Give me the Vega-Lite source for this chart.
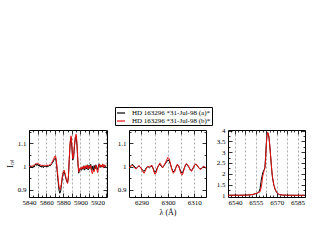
{
"$schema": "https://vega.github.io/schema/vega-lite/v6.json",
"padding": {"left": 5, "top": 106, "right": 5, "bottom": 5},
"config": {
  "view": {"stroke": "black", "strokeWidth": 1},
  "font": "Liberation Serif",
  "axis": {"domain": false, "labelFont": "Liberation Serif", "labelFontSize": 7, "labelColor": "black", "tickColor": "black", "tickWidth": 0.8, "gridColor": "#888888", "gridDash": [2, 2], "gridWidth": 0.7, "titleFont": "Liberation Serif", "titleFontWeight": "normal", "titleColor": "black", "titleFontSize": 8, "labelFlush": false, "labelOverlap": false},
  "axisX": {"labelPadding": 5},
  "axisY": {"labelPadding": 7}
},
"datasets": {
"p1": [
{"w":5840,"f":1.000,"s":"a"},{"w":5841,"f":1.004,"s":"a"},{"w":5842,"f":0.997,"s":"a"},{"w":5843,"f":1.003,"s":"a"},{"w":5844,"f":0.994,"s":"a"},{"w":5845,"f":1.002,"s":"a"},{"w":5846,"f":0.998,"s":"a"},{"w":5847,"f":1.007,"s":"a"},{"w":5848,"f":1.012,"s":"a"},{"w":5849,"f":1.005,"s":"a"},{"w":5850,"f":1.010,"s":"a"},{"w":5851,"f":1.003,"s":"a"},{"w":5852,"f":1.008,"s":"a"},{"w":5853,"f":0.999,"s":"a"},{"w":5854,"f":1.004,"s":"a"},{"w":5855,"f":0.997,"s":"a"},{"w":5856,"f":1.005,"s":"a"},{"w":5857,"f":0.996,"s":"a"},{"w":5858,"f":1.003,"s":"a"},{"w":5859,"f":0.999,"s":"a"},{"w":5860,"f":1.004,"s":"a"},{"w":5861,"f":0.998,"s":"a"},{"w":5862,"f":1.005,"s":"a"},{"w":5863,"f":1.001,"s":"a"},{"w":5864,"f":1.006,"s":"a"},{"w":5865,"f":1.004,"s":"a"},{"w":5866,"f":1.010,"s":"a"},{"w":5867,"f":1.014,"s":"a"},{"w":5868,"f":1.020,"s":"a"},{"w":5869,"f":1.028,"s":"a"},{"w":5870,"f":1.034,"s":"a"},{"w":5871,"f":1.038,"s":"a"},{"w":5872,"f":1.015,"s":"a"},{"w":5873,"f":0.975,"s":"a"},{"w":5874,"f":0.935,"s":"a"},{"w":5875,"f":0.900,"s":"a"},{"w":5876,"f":0.886,"s":"a"},{"w":5877,"f":0.896,"s":"a"},{"w":5878,"f":0.925,"s":"a"},{"w":5879,"f":0.955,"s":"a"},{"w":5880,"f":0.972,"s":"a"},{"w":5881,"f":0.978,"s":"a"},{"w":5882,"f":0.965,"s":"a"},{"w":5883,"f":0.950,"s":"a"},{"w":5884,"f":0.938,"s":"a"},{"w":5885,"f":0.930,"s":"a"},{"w":5886,"f":0.955,"s":"a"},{"w":5887,"f":1.030,"s":"a"},{"w":5888,"f":1.098,"s":"a"},{"w":5889,"f":1.124,"s":"a"},{"w":5890,"f":1.085,"s":"a"},{"w":5891,"f":1.028,"s":"a"},{"w":5892,"f":1.038,"s":"a"},{"w":5893,"f":1.085,"s":"a"},{"w":5894,"f":1.120,"s":"a"},{"w":5895,"f":1.130,"s":"a"},{"w":5896,"f":1.090,"s":"a"},{"w":5897,"f":1.018,"s":"a"},{"w":5898,"f":0.972,"s":"a"},{"w":5899,"f":0.988,"s":"a"},{"w":5900,"f":0.992,"s":"a"},{"w":5901,"f":0.984,"s":"a"},{"w":5902,"f":0.998,"s":"a"},{"w":5903,"f":0.988,"s":"a"},{"w":5904,"f":1.004,"s":"a"},{"w":5905,"f":0.985,"s":"a"},{"w":5906,"f":1.002,"s":"a"},{"w":5907,"f":0.990,"s":"a"},{"w":5908,"f":1.008,"s":"a"},{"w":5909,"f":0.986,"s":"a"},{"w":5910,"f":1.006,"s":"a"},{"w":5911,"f":0.992,"s":"a"},{"w":5912,"f":1.010,"s":"a"},{"w":5913,"f":0.985,"s":"a"},{"w":5914,"f":1.002,"s":"a"},{"w":5915,"f":0.982,"s":"a"},{"w":5916,"f":1.005,"s":"a"},{"w":5917,"f":0.990,"s":"a"},{"w":5918,"f":1.008,"s":"a"},{"w":5919,"f":0.995,"s":"a"},{"w":5920,"f":0.988,"s":"a"},{"w":5921,"f":1.004,"s":"a"},{"w":5922,"f":1.012,"s":"a"},{"w":5923,"f":0.996,"s":"a"},{"w":5924,"f":1.006,"s":"a"},{"w":5925,"f":0.998,"s":"a"},{"w":5926,"f":1.010,"s":"a"},{"w":5927,"f":0.994,"s":"a"},{"w":5928,"f":1.006,"s":"a"},{"w":5929,"f":1.000,"s":"a"},{"w":5930,"f":1.003,"s":"a"},
{"w":5840,"f":1.002,"s":"b"},{"w":5841,"f":1.000,"s":"b"},{"w":5842,"f":1.004,"s":"b"},{"w":5843,"f":1.001,"s":"b"},{"w":5844,"f":1.003,"s":"b"},{"w":5845,"f":1.006,"s":"b"},{"w":5846,"f":1.004,"s":"b"},{"w":5847,"f":1.010,"s":"b"},{"w":5848,"f":1.014,"s":"b"},{"w":5849,"f":1.012,"s":"b"},{"w":5850,"f":1.015,"s":"b"},{"w":5851,"f":1.010,"s":"b"},{"w":5852,"f":1.011,"s":"b"},{"w":5853,"f":1.006,"s":"b"},{"w":5854,"f":1.008,"s":"b"},{"w":5855,"f":1.004,"s":"b"},{"w":5856,"f":1.007,"s":"b"},{"w":5857,"f":1.003,"s":"b"},{"w":5858,"f":1.006,"s":"b"},{"w":5859,"f":1.003,"s":"b"},{"w":5860,"f":1.006,"s":"b"},{"w":5861,"f":1.004,"s":"b"},{"w":5862,"f":1.007,"s":"b"},{"w":5863,"f":1.005,"s":"b"},{"w":5864,"f":1.009,"s":"b"},{"w":5865,"f":1.008,"s":"b"},{"w":5866,"f":1.014,"s":"b"},{"w":5867,"f":1.020,"s":"b"},{"w":5868,"f":1.028,"s":"b"},{"w":5869,"f":1.036,"s":"b"},{"w":5870,"f":1.044,"s":"b"},{"w":5871,"f":1.046,"s":"b"},{"w":5872,"f":1.022,"s":"b"},{"w":5873,"f":0.985,"s":"b"},{"w":5874,"f":0.950,"s":"b"},{"w":5875,"f":0.915,"s":"b"},{"w":5876,"f":0.902,"s":"b"},{"w":5877,"f":0.908,"s":"b"},{"w":5878,"f":0.935,"s":"b"},{"w":5879,"f":0.962,"s":"b"},{"w":5880,"f":0.980,"s":"b"},{"w":5881,"f":0.985,"s":"b"},{"w":5882,"f":0.972,"s":"b"},{"w":5883,"f":0.955,"s":"b"},{"w":5884,"f":0.940,"s":"b"},{"w":5885,"f":0.928,"s":"b"},{"w":5886,"f":0.958,"s":"b"},{"w":5887,"f":1.040,"s":"b"},{"w":5888,"f":1.106,"s":"b"},{"w":5889,"f":1.132,"s":"b"},{"w":5890,"f":1.095,"s":"b"},{"w":5891,"f":1.033,"s":"b"},{"w":5892,"f":1.043,"s":"b"},{"w":5893,"f":1.094,"s":"b"},{"w":5894,"f":1.128,"s":"b"},{"w":5895,"f":1.139,"s":"b"},{"w":5896,"f":1.100,"s":"b"},{"w":5897,"f":1.028,"s":"b"},{"w":5898,"f":0.978,"s":"b"},{"w":5899,"f":0.992,"s":"b"},{"w":5900,"f":0.995,"s":"b"},{"w":5901,"f":0.988,"s":"b"},{"w":5902,"f":1.000,"s":"b"},{"w":5903,"f":0.992,"s":"b"},{"w":5904,"f":1.002,"s":"b"},{"w":5905,"f":0.990,"s":"b"},{"w":5906,"f":1.004,"s":"b"},{"w":5907,"f":0.994,"s":"b"},{"w":5908,"f":1.006,"s":"b"},{"w":5909,"f":0.990,"s":"b"},{"w":5910,"f":1.003,"s":"b"},{"w":5911,"f":0.995,"s":"b"},{"w":5912,"f":1.006,"s":"b"},{"w":5913,"f":0.978,"s":"b"},{"w":5914,"f":0.970,"s":"b"},{"w":5915,"f":0.985,"s":"b"},{"w":5916,"f":0.978,"s":"b"},{"w":5917,"f":0.996,"s":"b"},{"w":5918,"f":1.006,"s":"b"},{"w":5919,"f":0.990,"s":"b"},{"w":5920,"f":0.975,"s":"b"},{"w":5921,"f":0.992,"s":"b"},{"w":5922,"f":1.010,"s":"b"},{"w":5923,"f":1.000,"s":"b"},{"w":5924,"f":1.008,"s":"b"},{"w":5925,"f":0.998,"s":"b"},{"w":5926,"f":1.012,"s":"b"},{"w":5927,"f":0.996,"s":"b"},{"w":5928,"f":1.008,"s":"b"},{"w":5929,"f":1.002,"s":"b"},{"w":5930,"f":1.004,"s":"b"}
],
"p2": [
{"w":6285.0,"f":1.000,"s":"a"},{"w":6285.5,"f":0.998,"s":"a"},{"w":6286.0,"f":1.004,"s":"a"},{"w":6286.5,"f":1.010,"s":"a"},{"w":6287.0,"f":1.006,"s":"a"},{"w":6287.5,"f":0.998,"s":"a"},{"w":6288.0,"f":0.993,"s":"a"},{"w":6288.5,"f":0.997,"s":"a"},{"w":6289.0,"f":1.003,"s":"a"},{"w":6289.5,"f":0.998,"s":"a"},{"w":6290.0,"f":0.992,"s":"a"},{"w":6290.5,"f":0.984,"s":"a"},{"w":6291.0,"f":0.980,"s":"a"},{"w":6291.5,"f":0.988,"s":"a"},{"w":6292.0,"f":0.998,"s":"a"},{"w":6292.5,"f":1.000,"s":"a"},{"w":6293.0,"f":0.995,"s":"a"},{"w":6293.5,"f":1.000,"s":"a"},{"w":6294.0,"f":1.003,"s":"a"},{"w":6294.5,"f":0.990,"s":"a"},{"w":6295.0,"f":0.976,"s":"a"},{"w":6295.5,"f":0.980,"s":"a"},{"w":6296.0,"f":0.995,"s":"a"},{"w":6296.5,"f":1.005,"s":"a"},{"w":6297.0,"f":1.010,"s":"a"},{"w":6297.5,"f":1.002,"s":"a"},{"w":6298.0,"f":0.995,"s":"a"},{"w":6298.5,"f":1.004,"s":"a"},{"w":6299.0,"f":1.012,"s":"a"},{"w":6299.5,"f":1.020,"s":"a"},{"w":6300.0,"f":1.028,"s":"a"},{"w":6300.5,"f":1.025,"s":"a"},{"w":6301.0,"f":1.008,"s":"a"},{"w":6301.5,"f":0.990,"s":"a"},{"w":6302.0,"f":0.978,"s":"a"},{"w":6302.5,"f":0.982,"s":"a"},{"w":6303.0,"f":0.996,"s":"a"},{"w":6303.5,"f":1.008,"s":"a"},{"w":6304.0,"f":1.004,"s":"a"},{"w":6304.5,"f":0.990,"s":"a"},{"w":6305.0,"f":0.975,"s":"a"},{"w":6305.5,"f":0.972,"s":"a"},{"w":6306.0,"f":0.988,"s":"a"},{"w":6306.5,"f":1.002,"s":"a"},{"w":6307.0,"f":1.010,"s":"a"},{"w":6307.5,"f":1.004,"s":"a"},{"w":6308.0,"f":0.996,"s":"a"},{"w":6308.5,"f":0.986,"s":"a"},{"w":6309.0,"f":0.984,"s":"a"},{"w":6309.5,"f":0.994,"s":"a"},{"w":6310.0,"f":1.004,"s":"a"},{"w":6310.5,"f":1.010,"s":"a"},{"w":6311.0,"f":1.006,"s":"a"},{"w":6311.5,"f":0.998,"s":"a"},{"w":6312.0,"f":0.992,"s":"a"},{"w":6312.5,"f":0.990,"s":"a"},{"w":6313.0,"f":0.997,"s":"a"},{"w":6313.5,"f":1.000,"s":"a"},{"w":6314.0,"f":0.996,"s":"a"},{"w":6314.5,"f":0.994,"s":"a"},
{"w":6285.0,"f":1.002,"s":"b"},{"w":6285.5,"f":0.995,"s":"b"},{"w":6286.0,"f":1.002,"s":"b"},{"w":6286.5,"f":1.006,"s":"b"},{"w":6287.0,"f":1.002,"s":"b"},{"w":6287.5,"f":0.994,"s":"b"},{"w":6288.0,"f":0.990,"s":"b"},{"w":6288.5,"f":0.996,"s":"b"},{"w":6289.0,"f":1.005,"s":"b"},{"w":6289.5,"f":1.000,"s":"b"},{"w":6290.0,"f":0.990,"s":"b"},{"w":6290.5,"f":0.978,"s":"b"},{"w":6291.0,"f":0.972,"s":"b"},{"w":6291.5,"f":0.982,"s":"b"},{"w":6292.0,"f":0.996,"s":"b"},{"w":6292.5,"f":1.002,"s":"b"},{"w":6293.0,"f":0.998,"s":"b"},{"w":6293.5,"f":1.004,"s":"b"},{"w":6294.0,"f":1.006,"s":"b"},{"w":6294.5,"f":0.988,"s":"b"},{"w":6295.0,"f":0.968,"s":"b"},{"w":6295.5,"f":0.972,"s":"b"},{"w":6296.0,"f":0.992,"s":"b"},{"w":6296.5,"f":1.008,"s":"b"},{"w":6297.0,"f":1.016,"s":"b"},{"w":6297.5,"f":1.006,"s":"b"},{"w":6298.0,"f":0.996,"s":"b"},{"w":6298.5,"f":1.006,"s":"b"},{"w":6299.0,"f":1.016,"s":"b"},{"w":6299.5,"f":1.028,"s":"b"},{"w":6300.0,"f":1.040,"s":"b"},{"w":6300.5,"f":1.034,"s":"b"},{"w":6301.0,"f":1.012,"s":"b"},{"w":6301.5,"f":0.988,"s":"b"},{"w":6302.0,"f":0.972,"s":"b"},{"w":6302.5,"f":0.976,"s":"b"},{"w":6303.0,"f":0.994,"s":"b"},{"w":6303.5,"f":1.010,"s":"b"},{"w":6304.0,"f":1.006,"s":"b"},{"w":6304.5,"f":0.986,"s":"b"},{"w":6305.0,"f":0.968,"s":"b"},{"w":6305.5,"f":0.965,"s":"b"},{"w":6306.0,"f":0.984,"s":"b"},{"w":6306.5,"f":1.004,"s":"b"},{"w":6307.0,"f":1.014,"s":"b"},{"w":6307.5,"f":1.008,"s":"b"},{"w":6308.0,"f":0.998,"s":"b"},{"w":6308.5,"f":0.984,"s":"b"},{"w":6309.0,"f":0.980,"s":"b"},{"w":6309.5,"f":0.992,"s":"b"},{"w":6310.0,"f":1.006,"s":"b"},{"w":6310.5,"f":1.012,"s":"b"},{"w":6311.0,"f":1.008,"s":"b"},{"w":6311.5,"f":0.998,"s":"b"},{"w":6312.0,"f":0.990,"s":"b"},{"w":6312.5,"f":0.988,"s":"b"},{"w":6313.0,"f":0.996,"s":"b"},{"w":6313.5,"f":1.002,"s":"b"},{"w":6314.0,"f":0.998,"s":"b"},{"w":6314.5,"f":0.995,"s":"b"}
],
"p3": [
{"w":6535,"f":1.000,"s":"a"},{"w":6537,"f":1.002,"s":"a"},{"w":6540,"f":1.005,"s":"a"},{"w":6543,"f":1.000,"s":"a"},{"w":6546,"f":1.005,"s":"a"},{"w":6549,"f":1.010,"s":"a"},{"w":6551,"f":1.020,"s":"a"},{"w":6553,"f":1.040,"s":"a"},{"w":6555,"f":1.080,"s":"a"},{"w":6556,"f":1.100,"s":"a"},{"w":6557,"f":1.130,"s":"a"},{"w":6558,"f":1.300,"s":"a"},{"w":6559,"f":1.750,"s":"a"},{"w":6560,"f":2.050,"s":"a"},{"w":6561,"f":2.200,"s":"a"},{"w":6561.5,"f":2.300,"s":"a"},{"w":6562,"f":2.800,"s":"a"},{"w":6562.5,"f":3.400,"s":"a"},{"w":6563,"f":3.800,"s":"a"},{"w":6563.5,"f":3.900,"s":"a"},{"w":6564,"f":3.820,"s":"a"},{"w":6564.5,"f":3.650,"s":"a"},{"w":6565,"f":3.300,"s":"a"},{"w":6565.5,"f":2.900,"s":"a"},{"w":6566,"f":2.500,"s":"a"},{"w":6566.5,"f":2.100,"s":"a"},{"w":6567,"f":1.800,"s":"a"},{"w":6568,"f":1.450,"s":"a"},{"w":6569,"f":1.250,"s":"a"},{"w":6570,"f":1.120,"s":"a"},{"w":6571,"f":1.060,"s":"a"},{"w":6572,"f":1.030,"s":"a"},{"w":6574,"f":1.010,"s":"a"},{"w":6577,"f":1.000,"s":"a"},{"w":6580,"f":1.000,"s":"a"},{"w":6583,"f":1.000,"s":"a"},{"w":6586,"f":0.995,"s":"a"},{"w":6590,"f":1.000,"s":"a"},
{"w":6535,"f":1.000,"s":"b"},{"w":6537,"f":1.000,"s":"b"},{"w":6540,"f":1.002,"s":"b"},{"w":6543,"f":1.000,"s":"b"},{"w":6546,"f":1.004,"s":"b"},{"w":6549,"f":1.010,"s":"b"},{"w":6551,"f":1.020,"s":"b"},{"w":6553,"f":1.040,"s":"b"},{"w":6555,"f":1.080,"s":"b"},{"w":6556,"f":1.100,"s":"b"},{"w":6557,"f":1.130,"s":"b"},{"w":6558,"f":1.160,"s":"b"},{"w":6559,"f":1.400,"s":"b"},{"w":6560,"f":1.900,"s":"b"},{"w":6561,"f":2.150,"s":"b"},{"w":6561.5,"f":2.250,"s":"b"},{"w":6562,"f":2.650,"s":"b"},{"w":6562.5,"f":3.300,"s":"b"},{"w":6563,"f":3.780,"s":"b"},{"w":6563.5,"f":3.920,"s":"b"},{"w":6564,"f":3.850,"s":"b"},{"w":6564.5,"f":3.680,"s":"b"},{"w":6565,"f":3.320,"s":"b"},{"w":6565.5,"f":2.920,"s":"b"},{"w":6566,"f":2.520,"s":"b"},{"w":6566.5,"f":2.120,"s":"b"},{"w":6567,"f":1.820,"s":"b"},{"w":6568,"f":1.460,"s":"b"},{"w":6569,"f":1.260,"s":"b"},{"w":6570,"f":1.130,"s":"b"},{"w":6571,"f":1.070,"s":"b"},{"w":6572,"f":1.035,"s":"b"},{"w":6574,"f":1.012,"s":"b"},{"w":6577,"f":1.002,"s":"b"},{"w":6580,"f":1.000,"s":"b"},{"w":6583,"f":1.000,"s":"b"},{"w":6586,"f":0.998,"s":"b"},{"w":6590,"f":1.000,"s":"b"}
]
},
"spacing": 22,
"bounds": "flush",
"hconcat": [
{
 "width": 78, "height": 67,
 "data": {"name": "p1"},
 "layer": [
  {"transform": [{"filter": "datum.s == 'a'"}],
   "mark": {"type": "line", "strokeWidth": 1, "clip": true},
   "encoding": {
    "x": {"field": "w", "type": "quantitative", "scale": {"domain": [5840, 5931], "nice": false, "zero": false},
      "axis": {"orient": "bottom", "title": null, "values": [5840,5845,5850,5855,5860,5865,5870,5875,5880,5885,5890,5895,5900,5905,5910,5915,5920,5925,5930],
        "labelExpr": "datum.value % 20 == 0 ? datum.label : ''", "format": "d",
        "grid": true, "gridOpacity": {"condition": {"test": "datum.value % 10 == 0 && datum.value > 5840", "value": 1}, "value": 0},
        "tickSize": {"condition": {"test": "datum.value % 10 == 0", "value": -4}, "value": -2}}},
    "y": {"field": "f", "type": "quantitative", "scale": {"domain": [0.87, 1.157], "nice": false, "zero": false},
      "axis": {"orient": "left", "title": "Iᵣₑₗ", "titlePadding": 3, "values": [0.9, 0.95, 1, 1.05, 1.1, 1.15], "format": "~g",
        "labelExpr": "abs(datum.value*10 - round(datum.value*10)) < 0.001 ? datum.label : ''", "grid": false,
        "tickSize": {"condition": {"test": "abs(datum.value*10 - round(datum.value*10)) < 0.001", "value": -4}, "value": -2}}},
    "color": {"field": "s", "type": "nominal", "scale": {"domain": ["a", "b"], "range": ["#000000", "#ee1111"]},
      "legend": {"orient": "none", "legendX": 86, "legendY": -23, "title": null, "strokeColor": "black", "fillColor": "white", "padding": 1, "labelFontSize": 7, "labelFont": "Liberation Serif", "labelColor": "black", "symbolType": "stroke", "symbolSize": 64, "symbolStrokeWidth": 1.2, "rowPadding": 0, "labelOffset": 6,
        "labelExpr": "datum.label == 'a' ? 'HD 163296 *31-Jul-98 (a)*' : 'HD 163296 *31-Jul-98 (b)*'"}}
   }},
  {"transform": [{"filter": "datum.s == 'b'"}],
   "mark": {"type": "line", "strokeWidth": 1, "clip": true},
   "encoding": {
    "x": {"field": "w", "type": "quantitative",
      "axis": {"orient": "top", "title": null, "labels": false, "grid": false, "values": [5840,5845,5850,5855,5860,5865,5870,5875,5880,5885,5890,5895,5900,5905,5910,5915,5920,5925,5930],
        "tickSize": {"condition": {"test": "datum.value % 10 == 0", "value": -4}, "value": -2}}},
    "y": {"field": "f", "type": "quantitative",
      "axis": {"orient": "right", "title": null, "labels": false, "grid": false, "values": [0.9, 0.95, 1, 1.05, 1.1, 1.15],
        "tickSize": {"condition": {"test": "abs(datum.value*10 - round(datum.value*10)) < 0.001", "value": -4}, "value": -2}}},
    "color": {"field": "s", "type": "nominal"}
   }}
 ],
 "resolve": {"axis": {"x": "independent", "y": "independent"}}
},
{
 "width": 77, "height": 67,
 "data": {"name": "p2"},
 "layer": [
  {"transform": [{"filter": "datum.s == 'a'"}],
   "mark": {"type": "line", "strokeWidth": 1, "clip": true},
   "encoding": {
    "x": {"field": "w", "type": "quantitative", "scale": {"domain": [6285.3, 6314.4], "nice": false, "zero": false},
      "axis": {"orient": "bottom", "title": "λ (Å)", "titlePadding": 1, "values": [6287.5,6290,6292.5,6295,6297.5,6300,6302.5,6305,6307.5,6310,6312.5],
        "labelExpr": "datum.value % 10 == 0 ? datum.label : ''", "format": "d",
        "grid": true, "gridOpacity": {"condition": {"test": "datum.value % 5 == 0", "value": 1}, "value": 0},
        "tickSize": {"condition": {"test": "datum.value % 5 == 0", "value": -4}, "value": -2}}},
    "y": {"field": "f", "type": "quantitative", "scale": {"domain": [0.87, 1.157], "nice": false, "zero": false},
      "axis": {"orient": "left", "title": null, "values": [0.9, 0.95, 1, 1.05, 1.1, 1.15], "format": "~g",
        "labelExpr": "abs(datum.value*10 - round(datum.value*10)) < 0.001 ? datum.label : ''", "grid": false,
        "tickSize": {"condition": {"test": "abs(datum.value*10 - round(datum.value*10)) < 0.001", "value": -4}, "value": -2}}},
    "color": {"field": "s", "type": "nominal"}
   }},
  {"transform": [{"filter": "datum.s == 'b'"}],
   "mark": {"type": "line", "strokeWidth": 1, "clip": true},
   "encoding": {
    "x": {"field": "w", "type": "quantitative",
      "axis": {"orient": "top", "title": null, "labels": false, "grid": false, "values": [6287.5,6290,6292.5,6295,6297.5,6300,6302.5,6305,6307.5,6310,6312.5],
        "tickSize": {"condition": {"test": "datum.value % 5 == 0", "value": -4}, "value": -2}}},
    "y": {"field": "f", "type": "quantitative",
      "axis": {"orient": "right", "title": null, "labels": false, "grid": false, "values": [0.9, 0.95, 1, 1.05, 1.1, 1.15],
        "tickSize": {"condition": {"test": "abs(datum.value*10 - round(datum.value*10)) < 0.001", "value": -4}, "value": -2}}},
    "color": {"field": "s", "type": "nominal"}
   }}
 ],
 "resolve": {"axis": {"x": "independent", "y": "independent"}}
},
{
 "width": 77, "height": 67,
 "data": {"name": "p3"},
 "layer": [
  {"transform": [{"filter": "datum.s == 'a'"}],
   "mark": {"type": "line", "strokeWidth": 1, "clip": true},
   "encoding": {
    "x": {"field": "w", "type": "quantitative", "scale": {"domain": [6535, 6590.3], "nice": false, "zero": false},
      "axis": {"orient": "bottom", "title": null, "values": [6537.5,6540,6542.5,6545,6547.5,6550,6552.5,6555,6557.5,6560,6562.5,6565,6567.5,6570,6572.5,6575,6577.5,6580,6582.5,6585,6587.5,6590],
        "labelExpr": "(datum.value - 6540) % 15 == 0 ? datum.label : ''", "format": "d",
        "grid": true, "gridOpacity": {"condition": {"test": "(datum.value - 6540) % 7.5 == 0", "value": 1}, "value": 0},
        "tickSize": {"condition": {"test": "(datum.value - 6540) % 7.5 == 0", "value": -4}, "value": -2}}},
    "y": {"field": "f", "type": "quantitative", "scale": {"domain": [0.92, 4.03], "nice": false, "zero": false},
      "axis": {"orient": "left", "title": null, "values": [1, 1.25, 1.5, 1.75, 2, 2.25, 2.5, 2.75, 3, 3.25, 3.5, 3.75, 4], "format": "~g",
        "labelExpr": "(datum.value * 2) % 1 == 0 ? datum.label : ''", "grid": false,
        "tickSize": {"condition": {"test": "(datum.value * 2) % 1 == 0", "value": -4}, "value": -2}}},
    "color": {"field": "s", "type": "nominal"}
   }},
  {"transform": [{"filter": "datum.s == 'b'"}],
   "mark": {"type": "line", "strokeWidth": 1, "clip": true},
   "encoding": {
    "x": {"field": "w", "type": "quantitative",
      "axis": {"orient": "top", "title": null, "labels": false, "grid": false, "values": [6537.5,6540,6542.5,6545,6547.5,6550,6552.5,6555,6557.5,6560,6562.5,6565,6567.5,6570,6572.5,6575,6577.5,6580,6582.5,6585,6587.5,6590],
        "tickSize": {"condition": {"test": "(datum.value - 6540) % 7.5 == 0", "value": -4}, "value": -2}}},
    "y": {"field": "f", "type": "quantitative",
      "axis": {"orient": "right", "title": null, "labels": false, "grid": false, "values": [1, 1.25, 1.5, 1.75, 2, 2.25, 2.5, 2.75, 3, 3.25, 3.5, 3.75, 4],
        "tickSize": {"condition": {"test": "(datum.value * 2) % 1 == 0", "value": -4}, "value": -2}}},
    "color": {"field": "s", "type": "nominal"}
   }}
 ],
 "resolve": {"axis": {"x": "independent", "y": "independent"}}
}
]
}
